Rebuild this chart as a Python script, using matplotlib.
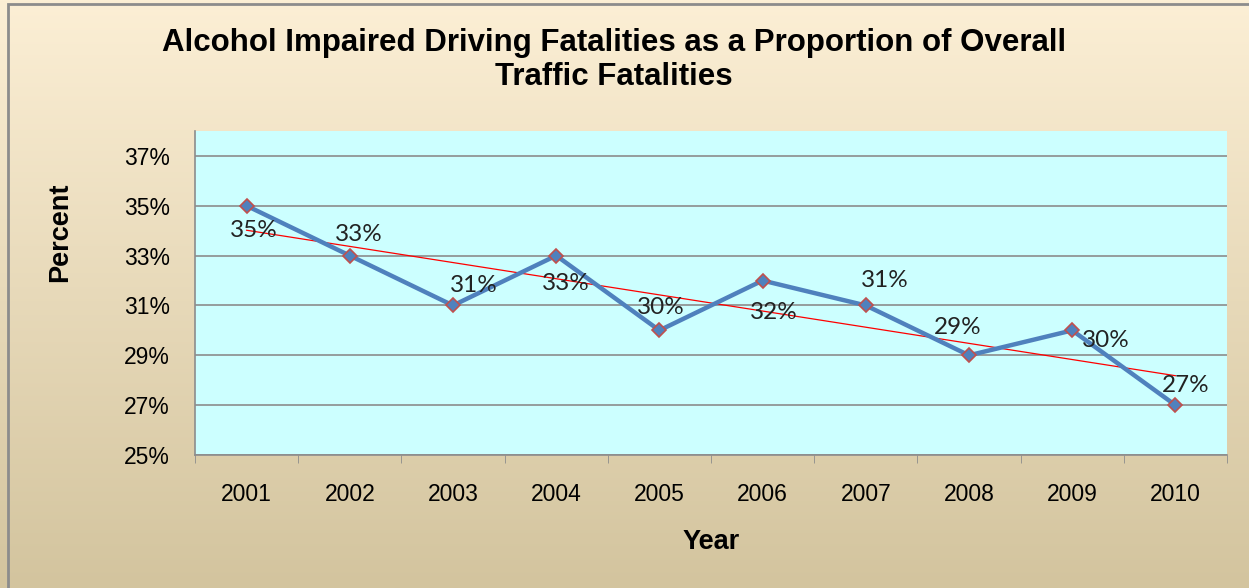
import matplotlib
matplotlib.use('Agg')
import matplotlib.pyplot as plt
import numpy as np
from matplotlib.patches import Rectangle

years = ['2001', '2002', '2003', '2004', '2005', '2006', '2007', '2008', '2009', '2010']
percent = [35, 33, 31, 33, 30, 32, 31, 29, 30, 27]
ytick_vals = [25, 27, 29, 31, 33, 35, 37]

# label offsets in pixels (dx, dy), Excel put them all over the place
label_offsets = [(7, -25), (9, 21), (21, 20), (10, -28), (1, 23),
                 (11, -32), (19, 25), (-11, 28), (34, -10), (10, 20)]

W, H = 1249, 588
fig = plt.figure(figsize=(W / 100, H / 100), dpi=100)

# background gradient, cream on top to tan at the bottom
bg = fig.add_axes([0, 0, 1, 1], zorder=-10)
top = np.array([252, 239, 213]) / 255
bot = np.array([211, 196, 158]) / 255
t = np.linspace(0, 1, 256)[:, None]
grad = top[None, :] * (1 - t) + bot[None, :] * t
bg.imshow(grad[:, None, :], aspect='auto', extent=[0, 1, 0, 1])
bg.add_patch(Rectangle((8 / W, -0.1), 1.2, 1 - 4 / H + 0.1, fill=False,
                       edgecolor='#8c8c8c', linewidth=2, transform=bg.transAxes))
bg.set_xlim(0, 1)
bg.set_ylim(0, 1)
bg.axis('off')

ax = fig.add_axes([195 / W, 1 - 455 / H, (1227 - 195) / W, (455 - 131) / H])
ax.set_facecolor('#ccffff')

x = np.arange(len(years))
ax.plot(x, percent, color='#4f81bd', linewidth=3.2, marker='D', markersize=7.5,
        markerfacecolor='#4f81bd', markeredgecolor='#c0504d', markeredgewidth=1.2, zorder=4)

# linear trend line
coef = np.polyfit(x, percent, 1)
ax.plot(x, np.polyval(coef, x), color='#ff0000', linewidth=0.9, zorder=3)

for xi, yi, (dx, dy) in zip(x, percent, label_offsets):
    ax.annotate(f'{yi}%', (xi, yi), xytext=(dx * 0.72, dy * 0.72), textcoords='offset points',
                ha='center', va='center', fontsize=17.5, family='Lato', color='#222222', zorder=5)

ax.set_xlim(-0.5, len(years) - 0.5)
ax.set_ylim(25, 38)
ax.set_yticks(ytick_vals)
ax.set_yticklabels([f'{v}%' for v in ytick_vals])
ax.set_xticks(x)
ax.set_xticklabels(years)
ax.set_xticks(np.arange(-0.5, len(years)), minor=True)
ax.tick_params(axis='x', which='major', length=0, pad=20, labelsize=16.5)
ax.tick_params(axis='x', which='minor', length=6, color='#8c8c8c')
ax.tick_params(axis='y', length=0, pad=18, labelsize=16.5)
for lab in ax.get_xticklabels() + ax.get_yticklabels():
    lab.set_family('Liberation Sans')

ax.grid(axis='y', color='#8c8c8c', linewidth=1.2)
ax.set_axisbelow(True)
for side in ['top', 'right']:
    ax.spines[side].set_visible(False)
for side in ['left', 'bottom']:
    ax.spines[side].set_color('#8c8c8c')
    ax.spines[side].set_linewidth(1.2)

fig.text(614 / W, 1 - 60 / H, 'Alcohol Impaired Driving Fatalities as a Proportion of Overall\nTraffic Fatalities',
         ha='center', va='center', fontsize=22.5, fontweight='bold', family='Liberation Sans',
         linespacing=1.15)
fig.text(60 / W, 1 - 232 / H, 'Percent', rotation=90, ha='center', va='center',
         fontsize=19.5, fontweight='bold', family='Liberation Sans')
fig.text(711 / W, 1 - 542 / H, 'Year', ha='center', va='center',
         fontsize=19.5, fontweight='bold', family='Liberation Sans')

fig.savefig('out.png', dpi=100)
